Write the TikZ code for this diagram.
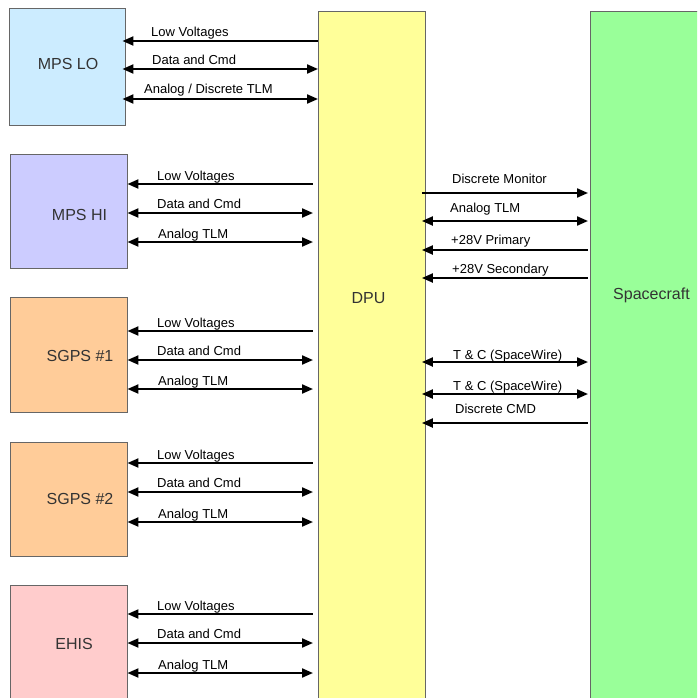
\documentclass[tikz,border=0pt]{standalone}
\usepackage{fontspec}
\setmainfont{Liberation Sans}
\usetikzlibrary{arrows.meta,positioning}
\definecolor{mpslofill}{HTML}{CCECFF}
\definecolor{mpshifill}{HTML}{CCCCFF}
\definecolor{sgpsfill}{HTML}{FFCC99}
\definecolor{ehisfill}{HTML}{FFCCCC}
\definecolor{dpufill}{HTML}{FFFF99}
\definecolor{scfill}{HTML}{99FF99}
\definecolor{edgegray}{HTML}{666666}
\definecolor{labelgray}{HTML}{333333}
\tikzset{
  unit/.style={draw=edgegray, line width=0.9pt, inner sep=0pt, minimum width=117pt},
  bus/.style={draw=edgegray, line width=0.9pt, inner sep=0pt, anchor=north west, minimum height=712pt},
  unitlabel/.style={font=\fontsize{16}{19}\selectfont, text=labelgray},
  sig/.style={font=\fontsize{13}{15}\selectfont, anchor=base west, inner sep=0pt},
  toleft/.style={{Triangle[length=11pt,width=9pt]}-, line width=2.1pt},
  toright/.style={-{Triangle[length=11pt,width=9pt]}, line width=2.1pt},
  both/.style={{Triangle[length=11pt,width=9pt]}-{Triangle[length=11pt,width=9pt]}, line width=2.1pt}
}

\begin{document}
\begin{tikzpicture}[x=1pt, y=-1pt]
  \useasboundingbox (0,0) rectangle (697,698);
  \fill[white] (0,0) rectangle (697,698);
  \clip (0,0) rectangle (697,698);

  % units on the left
  \node[unit, fill=mpslofill, minimum width=116pt, minimum height=117pt,
        label={[unitlabel, xshift=1pt, yshift=3pt]center:MPS LO}] (mpslo) at (67,66.5) {};
  \node[unit, fill=mpshifill, minimum height=114pt,
        label={[unitlabel, xshift=11pt, yshift=-4pt]center:MPS HI}] (mpshi) at (68.5,211) {};
  \node[unit, fill=sgpsfill, minimum height=115pt,
        label={[unitlabel, xshift=11.5pt, yshift=-1.5pt]center:SGPS \#1}] (sgpsa) at (68.5,354.5) {};
  \node[unit, fill=sgpsfill, minimum height=114pt,
        label={[unitlabel, xshift=11.5pt, yshift=0.5pt]center:SGPS \#2}] (sgpsb) at (68.5,499) {};
  \node[unit, fill=ehisfill, minimum height=125pt,
        label={[unitlabel, xshift=5.5pt, yshift=3.5pt]center:EHIS}] (ehis) at (68.5,647.5) {};

  % DPU and spacecraft
  \node[bus, fill=dpufill, minimum width=107pt,
        label={[unitlabel, xshift=-3.5pt, yshift=69pt]center:DPU}] (dpu) at (318,11) {};
  \node[bus, fill=scfill, minimum width=130pt,
        label={[unitlabel, xshift=-4pt, yshift=72pt]center:Spacecraft}] (sc) at (590,11) {};

  % MPS LO
  \draw[toleft, shorten <=-3pt] (mpslo.east |- 0,41) -- (dpu.west |- 0,41);
  \draw[both, shorten <=-3pt] (mpslo.east |- 0,69) -- (dpu.west |- 0,69);
  \draw[both, shorten <=-3pt] (mpslo.east |- 0,99) -- (dpu.west |- 0,99);
  \node[sig] (lolv) at (151,37) {Low Voltages};
  \node[sig] (lodc) at (152,65) {Data and Cmd};
  \node[sig] (lotlm) at (144,94) {Analog / Discrete TLM};

  % MPS HI
  \draw[toleft, shorten >=5pt] (mpshi.east |- 0,184) -- (dpu.west |- 0,184);
  \draw[both, shorten >=5pt] (mpshi.east |- 0,213) -- (dpu.west |- 0,213);
  \draw[both, shorten >=5pt] (mpshi.east |- 0,242) -- (dpu.west |- 0,242);
  \node[sig] (hilv) at (157,180) {Low Voltages};
  \node[sig] (hidc) at (157,208.5) {Data and Cmd};
  \node[sig] (hitlm) at (158,238) {Analog TLM};

  % SGPS #1
  \draw[toleft, shorten >=5pt] (sgpsa.east |- 0,331) -- (dpu.west |- 0,331);
  \draw[both, shorten >=5pt] (sgpsa.east |- 0,360) -- (dpu.west |- 0,360);
  \draw[both, shorten >=5pt] (sgpsa.east |- 0,389) -- (dpu.west |- 0,389);
  \node[sig] (alv) at (157,327) {Low Voltages};
  \node[sig] (adc) at (157,355.5) {Data and Cmd};
  \node[sig] (atlm) at (158,385) {Analog TLM};

  % SGPS #2
  \draw[toleft, shorten >=5pt] (sgpsb.east |- 0,463) -- (dpu.west |- 0,463);
  \draw[both, shorten >=5pt] (sgpsb.east |- 0,492) -- (dpu.west |- 0,492);
  \draw[both, shorten >=5pt] (sgpsb.east |- 0,522) -- (dpu.west |- 0,522);
  \node[sig] (blv) at (157,459) {Low Voltages};
  \node[sig] (bdc) at (157,487.5) {Data and Cmd};
  \node[sig] (btlm) at (158,518) {Analog TLM};

  % EHIS
  \draw[toleft, shorten >=5pt] (ehis.east |- 0,614) -- (dpu.west |- 0,614);
  \draw[both, shorten >=5pt] (ehis.east |- 0,643) -- (dpu.west |- 0,643);
  \draw[both, shorten >=5pt] (ehis.east |- 0,673) -- (dpu.west |- 0,673);
  \node[sig] (elv) at (157,610) {Low Voltages};
  \node[sig] (edc) at (157,638.5) {Data and Cmd};
  \node[sig] (etlm) at (158,669) {Analog TLM};

  % DPU to spacecraft
  \draw[toright, shorten <=-4pt, shorten >=2pt] (dpu.east |- 0,193) -- (sc.west |- 0,193);
  \draw[both, shorten <=-4pt, shorten >=2pt] (dpu.east |- 0,221) -- (sc.west |- 0,221);
  \draw[toleft, shorten <=-4pt, shorten >=2pt] (dpu.east |- 0,250) -- (sc.west |- 0,250);
  \draw[toleft, shorten <=-4pt, shorten >=2pt] (dpu.east |- 0,278) -- (sc.west |- 0,278);
  \draw[both, shorten <=-4pt, shorten >=2pt] (dpu.east |- 0,362) -- (sc.west |- 0,362);
  \draw[both, shorten <=-4pt, shorten >=2pt] (dpu.east |- 0,394) -- (sc.west |- 0,394);
  \draw[toleft, shorten <=-4pt, shorten >=2pt] (dpu.east |- 0,423) -- (sc.west |- 0,423);
  \node[sig] (scmon) at (452,183) {Discrete Monitor};
  \node[sig] (sctlm) at (450,212) {Analog TLM};
  \node[sig] (scpri) at (451,244) {+28V Primary};
  \node[sig] (scsec) at (452,273) {+28V Secondary};
  \node[sig] (scspwa) at (453,359) {T \& C (SpaceWire)};
  \node[sig] (scspwb) at (453,390) {T \& C (SpaceWire)};
  \node[sig] (sccmd) at (455,413) {Discrete CMD};
\end{tikzpicture}
\end{document}
